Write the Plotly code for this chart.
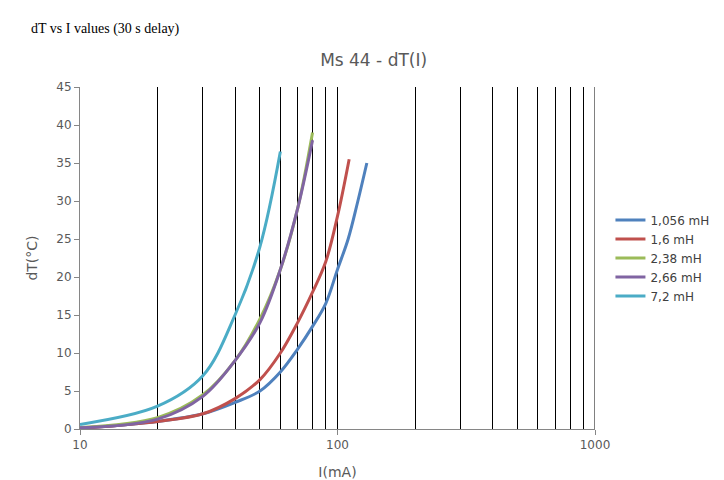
import plotly.graph_objects as go

names = ["1,056 mH", "1,6 mH", "2,38 mH", "2,66 mH", "7,2 mH"]
colors = ["#4F81BD", "#C0504D", "#9BBB59", "#8064A2", "#4BACC6"]

i_1056 = [10, 20, 30, 40, 50, 60, 70, 80, 90, 100, 110, 120, 130]
dt_1056 = [0.1, 1, 2, 3.5, 5, 7.5, 10.5, 13.5, 16.5, 21, 25, 30, 35]
i_16 = [10, 20, 30, 40, 50, 60, 70, 80, 90, 100, 111]
dt_16 = [0.1, 1, 2, 4, 6.5, 10, 14, 18, 22, 28, 35.5]
i_238 = [10, 20, 30, 40, 50, 60, 70, 80]
dt_238 = [0.2, 1.5, 4.5, 9, 14.5, 21, 29, 39]
i_266 = [10, 20, 30, 40, 50, 60, 70, 80]
dt_266 = [0.15, 1.3, 4.3, 9, 14, 21, 29, 38]
i_72 = [10, 20, 30, 40, 50, 60]
dt_72 = [0.6, 3, 7, 15, 24, 36.5]

series = [(i_1056, dt_1056), (i_16, dt_16), (i_238, dt_238), (i_266, dt_266), (i_72, dt_72)]

fig = go.Figure()
for (x, y), n, c in zip(series, names, colors):
    fig.add_trace(go.Scatter(x=x, y=y, name=n, mode="lines",
                             line=dict(color=c, width=3, shape="spline")))

fig.update_layout(
    width=724, height=480,
    margin=dict(l=72, r=137, t=79, b=59, autoexpand=False),
    plot_bgcolor="white", paper_bgcolor="white",
    font=dict(family="DejaVu Sans", size=12, color="#595959"),
    title=dict(text="Ms 44 - dT(I)", x=0.505, xanchor="center", y=0.905,
               font=dict(size=17, color="#595959")),
    legend=dict(x=1.03, y=0.5, yanchor="middle", font=dict(size=12, color="#404040"),
                tracegroupgap=8),
    annotations=[dict(text="dT vs I values (30 s delay)", xref="paper", yref="paper",
                      x=-0.1, y=1.2, xanchor="left", yanchor="top", showarrow=False,
                      font=dict(family="Liberation Serif", size=14, color="black"))],
)
fig.update_xaxes(type="log", range=[1, 3], title_text="I(mA)", automargin=False,
                 showgrid=True, gridcolor="#000000", gridwidth=1,
                 minor=dict(showgrid=True, gridcolor="#000000", dtick="D1"),
                 tickvals=[10, 100, 1000], ticktext=["10", "100", "1000"],
                 showline=True, linecolor="#868686", ticks="outside", tickcolor="#868686",
                 tickfont=dict(color="#595959"))
fig.update_yaxes(range=[0, 45], dtick=5, title_text="dT(°C)", showgrid=False, automargin=False,
                 showline=True, linecolor="#868686", ticks="outside", tickcolor="#868686",
                 zeroline=False)
fig.add_vline(x=1000, line_color="#000000", line_width=1)
fig.write_html("out.html")
